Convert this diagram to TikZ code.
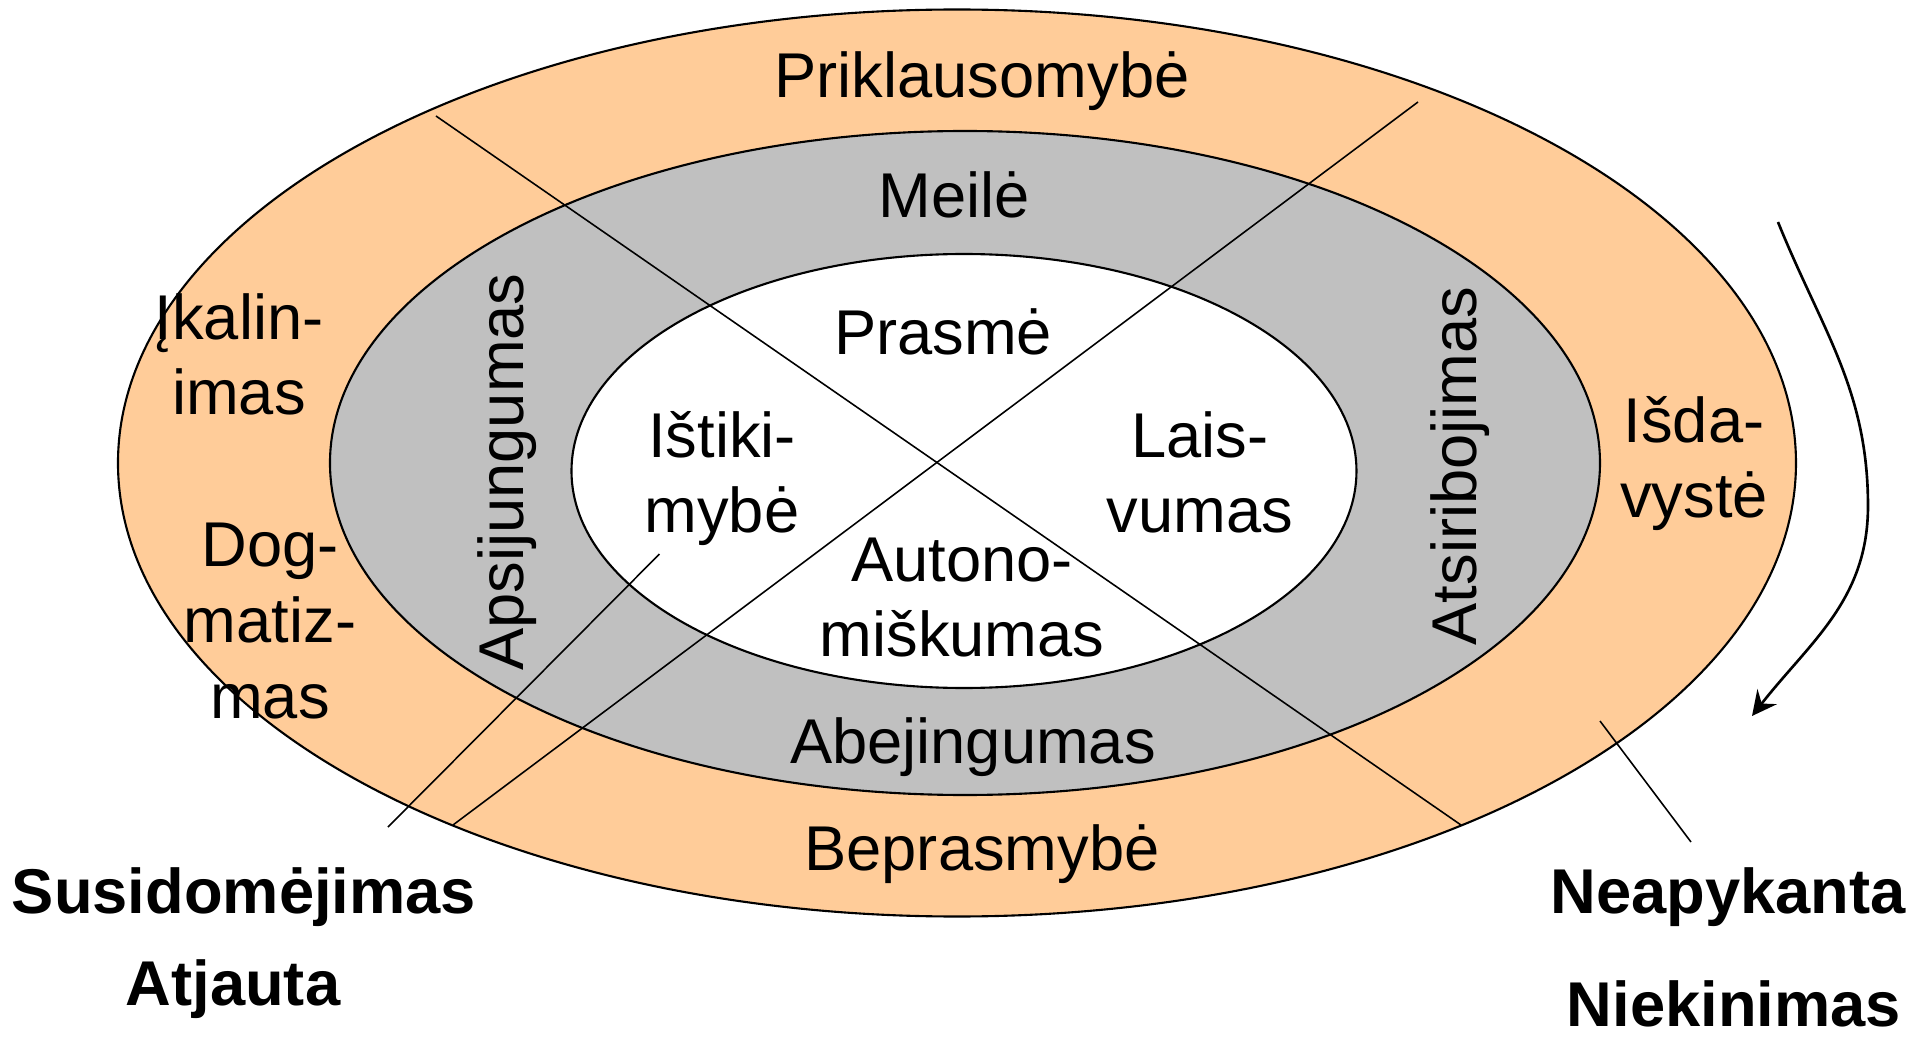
\documentclass[tikz,border=0pt]{standalone}
\usepackage{fontspec}
\setmainfont{Liberation Sans}
\usetikzlibrary{arrows.meta}
\definecolor{ringout}{HTML}{FFCC99}
\definecolor{ringmid}{HTML}{C0C0C0}

\begin{document}
\begin{tikzpicture}[font=\fontsize{18}{21.5}\selectfont,
  ring/.style={draw,line width=0.6pt},
  lbl/.style={anchor=base,align=center,inner sep=0pt},
  side/.style={lbl,rotate=90},
  big/.style={lbl,font=\fontsize{18}{21.5}\selectfont\bfseries}]
  \useasboundingbox (-9.6,-5.73) rectangle (9.5,4.66);
  \draw[ring,fill=ringout] (-0.03,0.03) ellipse (8.39 and 4.535);
  \draw[ring,fill=ringmid] (0.05,0.03) ellipse (6.35 and 3.32);
  \draw[ring,fill=white] (0.04,-0.05) ellipse (3.925 and 2.17);
  % dividers
  \coordinate (d1a) at (-5.24,3.50);
  \coordinate (d1b) at (5.01,-3.59);
  \coordinate (d2a) at (4.58,3.64);
  \coordinate (d2b) at (-5.07,-3.59);
  \draw[line width=0.45pt] (d1a) -- (d1b);
  \draw[line width=0.45pt] (d2a) -- (d2b);
  % pointers
  \coordinate (p1a) at (-3.005,-0.88);
  \coordinate (p1b) at (-5.72,-3.61);
  \coordinate (p2a) at (6.40,-2.55);
  \coordinate (p2b) at (7.31,-3.76);
  \draw[line width=0.45pt] (p1a) -- (p1b);
  \draw[line width=0.45pt] (p2a) -- (p2b);
  \coordinate (arrA) at (8.18,2.44);
  \coordinate (arrM) at (9.08,-0.4);
  \coordinate (arrB) at (7.92,-2.50);
  \draw[line width=0.75pt,-{Stealth[length=7pt,width=7pt,inset=2.5pt]}]
    (arrA) to[out=-68,in=90] (arrM) to[out=-90,in=52] (arrB);
  % labels (base = last line)
  \node[lbl] (prik) at (0.22,3.68) {Priklausomybė};
  \node[lbl] (meile) at (-0.06,2.48) {Meilė};
  \node[lbl] (prasme) at (-0.17,1.11) {Prasmė};
  \node[lbl] (istik) at (-2.38,-0.67) {Ištiki-\\mybė};
  \node[lbl] (laisv) at (2.40,-0.67) {Lais-\\vumas};
  \node[lbl] (auton) at (0.02,-1.91) {Autono-\\miškumas};
  \node[lbl] (abej) at (0.13,-2.97) {Abejingumas};
  \node[lbl] (bepr) at (0.22,-4.04) {Beprasmybė};
  \node[side] (apsij) at (-4.36,-0.06) {Apsijungumas};
  \node[side] (atsir) at (5.17,0.0) {Atsiribojimas};
  \node[lbl] (ikal) at (-7.21,0.51) {Įkalin-\\imas};
  \node[lbl] (dogm) at (-6.90,-2.52) {Dog-\\matiz-\\mas};
  \node[lbl] (isdav) at (7.34,-0.52) {Išda-\\vystė};
  \node[big] (susid) at (-7.16,-4.47) {Susidomėjimas};
  \node[big] (atjau) at (-7.27,-5.39) {Atjauta};
  \node[big] (neap) at (7.68,-4.47) {Neapykanta};
  \node[big] (niek) at (7.74,-5.60) {Niekinimas};
\end{tikzpicture}
\end{document}
